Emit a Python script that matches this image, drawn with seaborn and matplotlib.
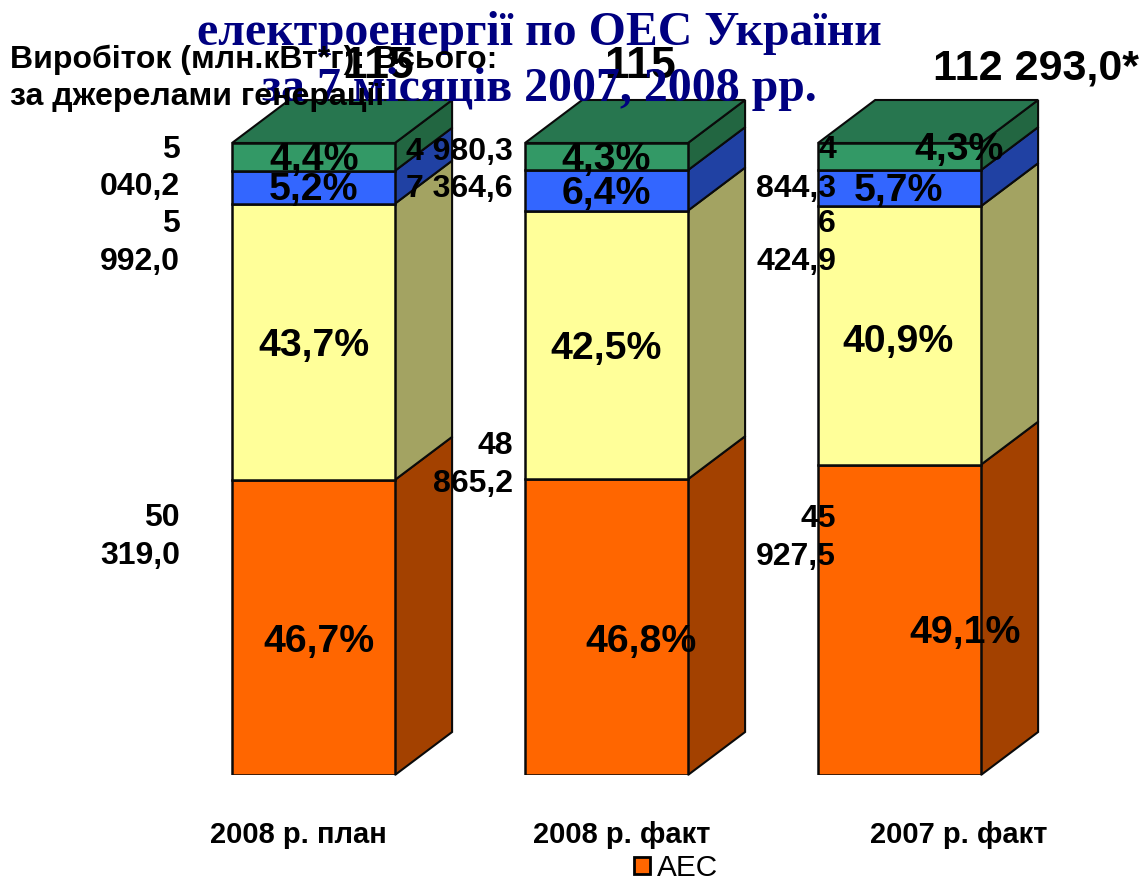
import numpy as np
import pandas as pd
import matplotlib.pyplot as plt
from matplotlib.patches import Patch, Polygon
from matplotlib.transforms import ScaledTranslation
import seaborn as sns

categories = ['2008 р. план', '2008 р. факт', '2007 р. факт']
series = ['АЕС', 'ТЕС', 'ГЕС', 'Інші']
aes = [46.7, 46.8, 49.1]
tes = [43.7, 42.5, 40.9]
ges = [5.2, 6.4, 5.7]
other = [4.4, 4.3, 4.3]
aes_lbl = ['50\n319,0', '48\n865,2', '45\n927,5']
tes_lbl = ['5\n992,0', '', '6\n424,9']
ges_lbl = ['040,2', '7 364,6', '844,3']
other_lbl = ['5', '4 980,3', '4']

front = ['#FF6600', '#FFFF99', '#3366FF', '#339966']
side = ['#A34100', '#A3A362', '#2041A3', '#226641']
top_col = '#27764F'

W, H = 1141, 876
sns.set_style('white')
plt.rcParams['font.family'] = ['Liberation Sans', 'DejaVu Sans']
plt.rcParams['text.color'] = 'black'
plt.rcParams['xtick.color'] = 'black'

fig = plt.figure(figsize=(W / 100, H / 100), dpi=100)
ax = fig.add_axes([167 / W, 1 - 775 / H, 879 / W, 675 / H])

bar_w = 0.556
dx, dy = 0.195, 6.8
edge = '#0a0a0a'
bottom = np.zeros(3)
for name, vals, c, s in zip(series, [aes, tes, ges, other], front, side):
    vals = np.array(vals)
    sns.barplot(x=categories, y=vals, bottom=bottom, color=c, saturation=1,
                width=bar_w, edgecolor=edge, linewidth=1.8, errorbar=None, ax=ax, zorder=3)
    # side face of the fake 3d box
    for i in range(3):
        r = i + bar_w / 2
        b, t = bottom[i], bottom[i] + vals[i]
        ax.add_patch(Polygon([(r, b), (r + dx, b + dy), (r + dx, t + dy), (r, t)],
                             fc=s, ec=edge, lw=1.5, zorder=2, clip_on=False))
    bottom = bottom + vals

for i in range(3):
    l, r = i - bar_w / 2, i + bar_w / 2
    t = bottom[i]
    ax.add_patch(Polygon([(l, t), (l + dx, t + dy), (r + dx, t + dy), (r, t)],
                         fc=top_col, ec=edge, lw=1.5, zorder=2, clip_on=False))

ax.set_xlim(-0.5, 2.5)
ax.set_ylim(0, 106.8)
ax.set_xlabel('')
ax.set_ylabel('')
ax.set_xticks(range(3))
ax.set_xticklabels(categories, fontsize=21, fontweight='bold')
ax.tick_params(axis='x', length=0, pad=33)
ax.set_yticks([])
sns.despine(ax=ax, left=True, bottom=True)
# tick labels are not centred under the bars in the source
for lbl, off in zip(ax.get_xticklabels(), [-15, 15, 59]):
    lbl.set_transform(lbl.get_transform() + ScaledTranslation(off / 100, 0, fig.dpi_scale_trans))


def px(x, y, s, size=18, ha='center', weight='bold', color='black', z=5, **kw):
    fig.text(x / W, 1 - y / H, s, fontsize=size, ha=ha, va='center', fontweight=weight,
             color=color, zorder=z, **kw)


def pct(v):
    return f'{v:.1f}%'.replace('.', ',')


# percent labels sit where the source put them, not centred
pct_xy = [
    [(319, 642), (314, 346), (314, 190), (314, 160)],
    [(641, 642), (606, 349), (606, 194), (606, 160)],
    [(965, 633), (898, 342), (898, 191), (959, 150)],
]
for i in range(3):
    for vals, (x, y) in zip([aes, tes, ges, other], pct_xy[i]):
        px(x, y, pct(vals[i]), size=28.3)

# value labels
val_xy = [
    [(180, 537), (180, 243), (180, 187), (180, 150)],
    [(513, 465), None, (513, 189), (513, 152)],
    [(836, 538), (836, 243), (836, 189), (836, 150)],
]
for i in range(3):
    for lbls, xy in zip([aes_lbl, tes_lbl, ges_lbl, other_lbl], val_xy[i]):
        if xy is not None:
            fig.text(xy[0] / W, 1 - xy[1] / H, lbls[i], fontsize=23, ha='right', va='center',
                     fontweight='bold', linespacing=1.33, zorder=5)

# totals go under the title, the header goes over it
px(378, 67, '115', size=32, z=4)
px(640, 67, '115', size=32, z=4)
px(1036, 68, '112 293,0*', size=31, z=4)

px(539, 33, 'електроенергії по ОЕС України', size=34.4, color='#000080', z=6, family='Liberation Serif')
px(539, 89, 'за 7 місяців 2007, 2008 рр.', size=34.4, color='#000080', z=6, family='Liberation Serif')

px(10, 60, 'Виробіток (млн.кВт*г): Всього:', size=23, ha='left', z=7)
px(10, 97, 'за джерелами генерації', size=23, ha='left', z=7)

fig.legend(handles=[Patch(fc=front[0], ec='black', lw=2, label=series[0])], loc='center left',
           bbox_to_anchor=(634 / W, 1 - 868 / H), frameon=False, fontsize=21.4,
           handlelength=0.54, handleheight=0.54, handletextpad=0.24, borderpad=0, borderaxespad=0)

fig.savefig('out.png', dpi=100)
